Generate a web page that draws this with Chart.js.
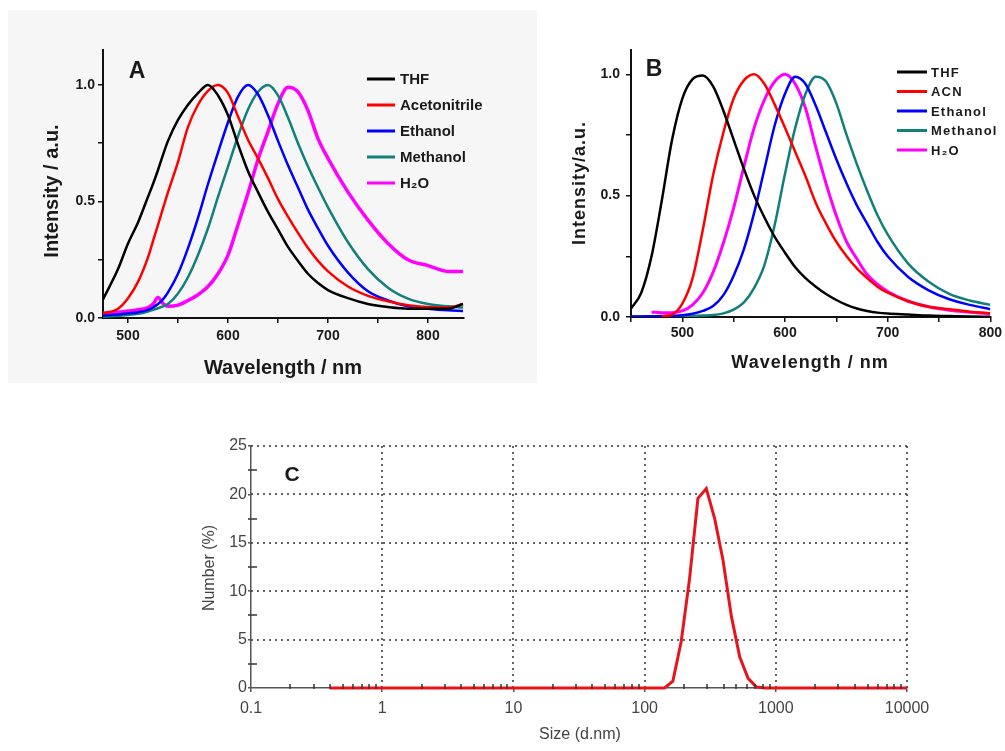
<!DOCTYPE html>
<html>
<head>
<meta charset="utf-8">
<script src="https://cdn.jsdelivr.net/npm/chart.js"></script>
<style>
  body { margin: 0; background: #fff; }
  canvas { position: absolute; }
  #chartA { left: 8px; top: 10px; background: #f6f6f6; }
  #chartB { left: 545px; top: 20px; }
  #chartC { left: 200px; top: 430px; }
</style>
</head>
<body>
<canvas id="chartA" width="529" height="373"></canvas>
<canvas id="chartB" width="460" height="370"></canvas>
<canvas id="chartC" width="740" height="321"></canvas>
<script>
// panel A - emission spectra in solvents
const aWavelength = [475, 490, 500, 510, 520, 525, 530, 535, 540, 550, 560, 570, 580, 590, 600, 610, 620, 630, 640, 650, 660, 670, 680, 690, 700, 720, 740, 760, 780, 800, 820, 835];
const aTHF  = [0.08, 0.21, 0.32, 0.41, 0.52, 0.575, 0.635, 0.70, 0.76, 0.85, 0.915, 0.965, 1.0, 0.955, 0.87, 0.745, 0.63, 0.54, 0.455, 0.38, 0.305, 0.245, 0.19, 0.15, 0.12, 0.085, 0.06, 0.047, 0.04, 0.04, 0.04, 0.06];
const aACN  = [0.02, 0.04, 0.085, 0.155, 0.26, 0.33, 0.40, 0.47, 0.54, 0.67, 0.82, 0.915, 0.975, 1.0, 0.965, 0.865, 0.765, 0.685, 0.60, 0.51, 0.435, 0.365, 0.30, 0.245, 0.20, 0.135, 0.095, 0.072, 0.055, 0.047, 0.045, 0.06];
const aEtOH = [0.01, 0.015, 0.02, 0.025, 0.035, 0.045, 0.06, 0.08, 0.11, 0.19, 0.30, 0.43, 0.575, 0.71, 0.84, 0.95, 1.0, 0.96, 0.87, 0.76, 0.655, 0.56, 0.465, 0.385, 0.31, 0.195, 0.115, 0.075, 0.05, 0.04, 0.033, 0.03];
const aMeOH = [0.005, 0.01, 0.013, 0.018, 0.028, 0.035, 0.042, 0.05, 0.06, 0.105, 0.175, 0.27, 0.385, 0.52, 0.65, 0.78, 0.895, 0.97, 1.0, 0.955, 0.86, 0.75, 0.65, 0.56, 0.475, 0.325, 0.21, 0.13, 0.083, 0.06, 0.05, 0.045];
const aH2O  = [0.02, 0.025, 0.03, 0.035, 0.045, 0.06, 0.088, 0.062, 0.05, 0.055, 0.075, 0.10, 0.135, 0.19, 0.27, 0.40, 0.535, 0.68, 0.80, 0.92, 0.99, 0.97, 0.89, 0.77, 0.685, 0.54, 0.42, 0.32, 0.25, 0.225, 0.20, 0.20];
const aLabels = ['THF', 'Acetonitrile', 'Ethanol', 'Methanol', 'H\u2082O'];
const aXTicks = [500, 550, 600, 650, 700, 750, 800];
const aYTicks = [0, 0.25, 0.5, 0.75, 1.0];

// panel B
const bWavelength = [450, 460, 470, 480, 490, 500, 510, 520, 530, 540, 550, 560, 570, 580, 590, 600, 610, 620, 630, 640, 650, 660, 670, 680, 690, 700, 720, 740, 760, 780, 800];
const bTHF  = [0.035, 0.10, 0.25, 0.48, 0.73, 0.90, 0.98, 0.995, 0.95, 0.85, 0.73, 0.61, 0.50, 0.41, 0.33, 0.265, 0.205, 0.16, 0.125, 0.095, 0.07, 0.05, 0.035, 0.025, 0.018, 0.014, 0.01, 0.006, 0.004, 0.002, 0.001];
const bACN  = [null, null, null, 0.003, 0.01, 0.055, 0.16, 0.36, 0.585, 0.76, 0.90, 0.975, 1.0, 0.96, 0.875, 0.78, 0.68, 0.58, 0.47, 0.385, 0.31, 0.25, 0.20, 0.16, 0.125, 0.10, 0.065, 0.042, 0.032, 0.022, 0.015];
const bEtOH = [0.002, 0.002, 0.003, 0.004, 0.005, 0.007, 0.013, 0.025, 0.045, 0.09, 0.17, 0.28, 0.43, 0.61, 0.79, 0.92, 0.99, 0.96, 0.87, 0.76, 0.65, 0.55, 0.46, 0.385, 0.31, 0.25, 0.165, 0.11, 0.073, 0.05, 0.032];
const bMeOH = [0.002, 0.002, 0.002, 0.002, 0.003, 0.004, 0.005, 0.006, 0.008, 0.015, 0.03, 0.06, 0.12, 0.215, 0.38, 0.59, 0.78, 0.92, 0.99, 0.97, 0.88, 0.75, 0.63, 0.52, 0.42, 0.34, 0.22, 0.145, 0.095, 0.068, 0.05];
const bH2O  = [null, null, 0.02, 0.018, 0.018, 0.025, 0.05, 0.10, 0.185, 0.305, 0.45, 0.62, 0.78, 0.895, 0.97, 1.0, 0.96, 0.86, 0.70, 0.55, 0.417, 0.31, 0.24, 0.175, 0.135, 0.105, 0.065, 0.042, 0.028, 0.02, 0.013];
const bLabels = ['THF', 'ACN', 'Ethanol', 'Methanol', 'H\u2082O'];
const bXTicks = [450, 500, 550, 600, 650, 700, 750, 800];
const bYTicks = [0, 0.25, 0.5, 0.75, 1.0];

// panel C - DLS size distribution
const cSize   = [0.4, 141.8, 164.2, 190.1, 220.2, 255.0, 295.3, 342.0, 396.1, 458.7, 531.2, 615.1, 712.4, 825.0, 10000];
const cNumber = [0, 0, 0.7, 4.8, 11.3, 19.6, 20.6, 17.5, 13.2, 7.4, 3.2, 1.0, 0.1, 0, 0];
const cXTicks = [0.1, 1, 10, 100, 1000, 10000];
const cYTicks = [0, 5, 10, 15, 20, 25];

const colors = ['#000000', '#ff0000', '#0000ff', '#11807a', '#ff00ff'];
const FONT = '"Liberation Sans", Arial, sans-serif';

function points(xs, ys) {
  return xs.map((x, i) => ({ x: x, y: ys[i] }));
}

function spectra(xs, series, labels, widths) {
  return series.map((ys, i) => ({
    label: labels[i],
    data: points(xs, ys),
    borderColor: colors[i],
    borderWidth: widths[i],
    pointRadius: 0,
    cubicInterpolationMode: 'monotone',
    fill: false
  }));
}

// free text: panel letters and axis titles
const textPlugin = {
  id: 'panelText',
  afterDraw(chart, args, opts) {
    const ctx = chart.ctx;
    (opts.items || []).forEach(t => {
      ctx.save();
      ctx.font = t.font;
      ctx.fillStyle = t.color || '#1a1a1a';
      ctx.letterSpacing = t.spacing || '0px';
      ctx.textAlign = 'center';
      ctx.textBaseline = 'middle';
      ctx.translate(t.x, t.y);
      if (t.rotate) ctx.rotate(t.rotate);
      ctx.fillText(t.text, 0, 0);
      ctx.restore();
    });
  }
};

// legend drawn inside the plot like the original
const legendPlugin = {
  id: 'insideLegend',
  afterDraw(chart, args, o) {
    if (!o.x) return;
    const ctx = chart.ctx;
    chart.data.datasets.forEach((ds, i) => {
      const y = o.y + i * o.step;
      ctx.save();
      ctx.strokeStyle = ds.borderColor;
      ctx.lineWidth = 3;
      ctx.beginPath();
      ctx.moveTo(o.x, y);
      ctx.lineTo(o.x + o.len, y);
      ctx.stroke();
      ctx.font = o.font;
      ctx.letterSpacing = o.spacing || '0px';
      ctx.fillStyle = '#1a1a1a';
      ctx.textAlign = 'left';
      ctx.textBaseline = 'middle';
      ctx.fillText(ds.label, o.x + o.len + o.gap, y + 1);
      ctx.restore();
    });
  }
};

function spectrumOptions(cfg) {
  return {
    responsive: false,
    animation: false,
    devicePixelRatio: 1,
    layout: { padding: { top: cfg.top, right: cfg.right, left: 0, bottom: 0 } },
    plugins: {
      legend: { display: false },
      tooltip: { enabled: false },
      panelText: { items: cfg.texts },
      insideLegend: cfg.legend
    },
    scales: {
      x: {
        type: 'linear', min: cfg.xMin, max: cfg.xMax,
        afterBuildTicks: s => { s.ticks = cfg.xTicks.map(v => ({ value: v })); },
        afterFit: s => { s.height = cfg.xHeight; },
        grid: { drawOnChartArea: false, drawTicks: true, tickLength: 5, color: '#111', lineWidth: 1.5 },
        border: { color: '#111', width: 2 },
        ticks: {
          autoSkip: false, maxRotation: 0, padding: cfg.xPad, color: '#1a1a1a',
          font: { family: FONT, size: 14, weight: 'bold' },
          callback: v => (v % 100 === 0 ? String(v) : '')
        }
      },
      y: {
        type: 'linear', min: 0, max: cfg.yMax,
        afterBuildTicks: s => { s.ticks = cfg.yTicks.map(v => ({ value: v })); },
        afterFit: s => { s.width = cfg.yWidth; },
        grid: { drawOnChartArea: false, drawTicks: true, tickLength: 5, color: '#111', lineWidth: 1.5 },
        border: { color: '#111', width: 2 },
        ticks: {
          autoSkip: false, padding: cfg.yPad, color: '#1a1a1a',
          font: { family: FONT, size: 14, weight: 'bold' },
          callback: v => (v % 0.5 === 0 ? v.toFixed(1) : '')
        }
      }
    }
  };
}

new Chart(document.getElementById('chartA'), {
  type: 'line',
  data: { datasets: spectra(aWavelength, [aTHF, aACN, aEtOH, aMeOH, aH2O], aLabels, [2.5, 2.5, 2.5, 2.5, 3.5]) },
  options: spectrumOptions({
    top: 40, right: 73, xMin: 475, xMax: 836, yMax: 1.15,
    xTicks: aXTicks, yTicks: aYTicks, xHeight: 65, yWidth: 95, xPad: 5, yPad: 3,
    texts: [
      { text: 'A', x: 129, y: 62, font: 'bold 23px ' + FONT },
      { text: 'Intensity / a.u.', x: 44, y: 181, rotate: -Math.PI / 2, font: 'bold 20px ' + FONT },
      { text: 'Wavelength / nm', x: 275, y: 358, font: 'bold 20px ' + FONT }
    ],
    legend: { x: 359, y: 69, step: 26, len: 28, gap: 5, font: 'bold 15px ' + FONT }
  }),
  plugins: [textPlugin, legendPlugin]
});

new Chart(document.getElementById('chartB'), {
  type: 'line',
  data: { datasets: spectra(bWavelength, [bTHF, bACN, bEtOH, bMeOH, bH2O], bLabels, [2.5, 2.5, 2.5, 2.5, 3]) },
  options: spectrumOptions({
    top: 30, right: 14, xMin: 450, xMax: 800, yMax: 1.1,
    xTicks: bXTicks, yTicks: bYTicks, xHeight: 73, yWidth: 86, xPad: 3, yPad: 6,
    texts: [
      { text: 'B', x: 109, y: 50, font: 'bold 23px ' + FONT },
      { text: 'Intensity/a.u.', x: 35, y: 163, rotate: -Math.PI / 2, font: 'bold 18px ' + FONT, spacing: '1px' },
      { text: 'Wavelength / nm', x: 265, y: 343, font: 'bold 18px ' + FONT, spacing: '1px' }
    ],
    legend: { x: 352, y: 52, step: 19.5, len: 30, gap: 4, font: 'bold 13px ' + FONT, spacing: '1.2px' }
  }),
  plugins: [textPlugin, legendPlugin]
});

// dotted grid and minor ticks of the DLS plot
const dlsGrid = {
  id: 'dlsGrid',
  beforeDatasetsDraw(chart) {
    const { ctx, chartArea: a, scales: { x, y } } = chart;
    ctx.save();
    ctx.strokeStyle = '#333';
    ctx.lineWidth = 1.5;
    ctx.setLineDash([2, 4]);
    cXTicks.slice(1).forEach(v => {
      const px = Math.round(x.getPixelForValue(v));
      ctx.beginPath(); ctx.moveTo(px, a.top); ctx.lineTo(px, a.bottom); ctx.stroke();
    });
    cYTicks.slice(1).forEach(v => {
      const py = Math.round(y.getPixelForValue(v));
      ctx.beginPath(); ctx.moveTo(a.left, py); ctx.lineTo(a.right, py); ctx.stroke();
    });
    ctx.restore();
  },
  afterDatasetsDraw(chart) {
    const { ctx, chartArea: a, scales: { x, y } } = chart;
    ctx.save();
    ctx.strokeStyle = '#333';
    ctx.lineWidth = 1.5;
    cXTicks.slice(0, -1).forEach(d => {
      for (let k = 2; k <= 9; k++) {
        const px = Math.round(x.getPixelForValue(d * k));
        ctx.beginPath(); ctx.moveTo(px, a.bottom - 4); ctx.lineTo(px, a.bottom + 1); ctx.stroke();
      }
    });
    cYTicks.slice(0, -1).forEach(v => {
      const py = Math.round(y.getPixelForValue(v + 2.5));
      ctx.beginPath(); ctx.moveTo(a.left - 3, py); ctx.lineTo(a.left + 6, py); ctx.stroke();
    });
    ctx.restore();
  }
};

new Chart(document.getElementById('chartC'), {
  type: 'line',
  data: {
    datasets: [{
      label: 'Number',
      data: points(cSize, cNumber),
      borderColor: '#e8141c',
      borderWidth: 3,
      pointRadius: 0,
      tension: 0,
      clip: 4,
      fill: false
    }]
  },
  options: {
    responsive: false,
    animation: false,
    devicePixelRatio: 1,
    layout: { padding: { top: 16, right: 33, left: 0, bottom: 0 } },
    plugins: {
      legend: { display: false },
      tooltip: { enabled: false },
      panelText: {
        items: [
          { text: 'C', x: 92, y: 45, font: 'bold 21px ' + FONT },
          { text: 'Number (%)', x: 10, y: 138, rotate: -Math.PI / 2, font: '16px ' + FONT, color: '#444' },
          { text: 'Size (d.nm)', x: 380, y: 305, font: '16px ' + FONT, color: '#444' }
        ]
      }
    },
    scales: {
      x: {
        type: 'logarithmic', min: 0.1, max: 10000,
        afterBuildTicks: s => { s.ticks = cXTicks.map(v => ({ value: v })); },
        afterFit: s => { s.height = 63; },
        grid: { drawOnChartArea: false, drawTicks: true, tickLength: 4, color: '#555', lineWidth: 1.5 },
        border: { color: '#555', width: 1.5 },
        ticks: {
          autoSkip: false, maxRotation: 0, padding: 7, color: '#444',
          font: { family: FONT, size: 16 },
          callback: v => String(v)
        }
      },
      y: {
        type: 'linear', min: 0, max: 25,
        afterBuildTicks: s => { s.ticks = cYTicks.map(v => ({ value: v })); },
        afterFit: s => { s.width = 51; },
        grid: { drawOnChartArea: false, drawTicks: true, tickLength: 3, color: '#555', lineWidth: 1.5 },
        border: { color: '#555', width: 1.5 },
        ticks: {
          autoSkip: false, padding: 1, color: '#444',
          font: { family: FONT, size: 16 },
          callback: v => String(v)
        }
      }
    }
  },
  plugins: [textPlugin, dlsGrid]
});
</script>
</body>
</html>
